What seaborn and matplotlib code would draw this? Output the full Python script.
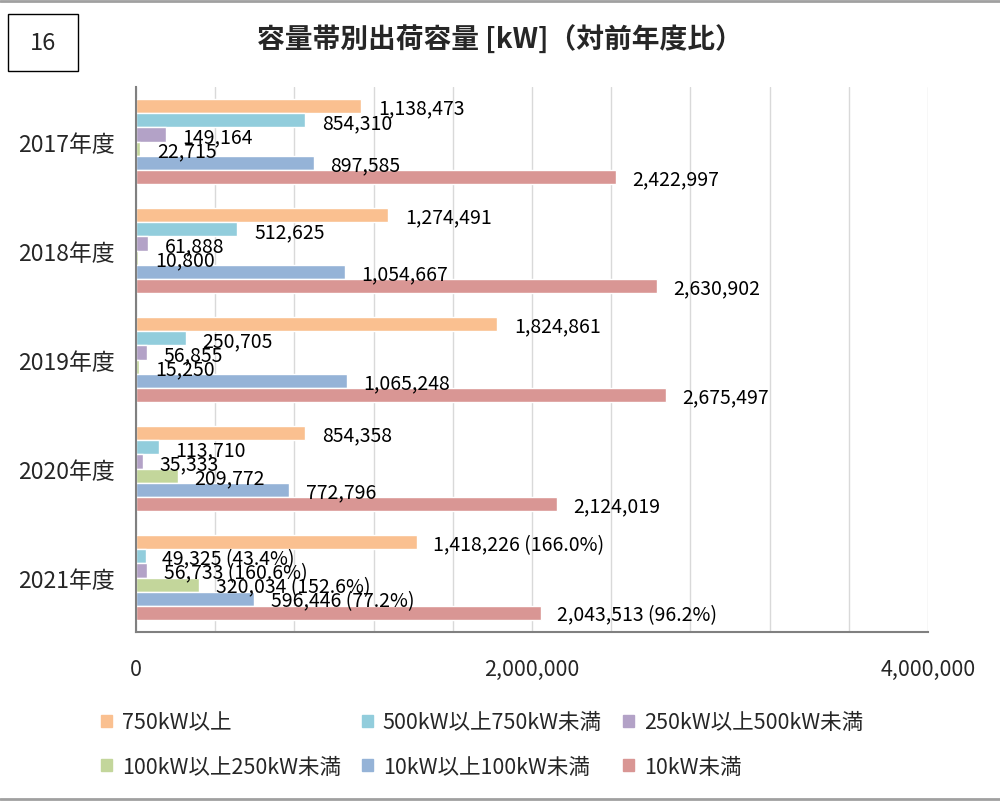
import numpy as np
import pandas as pd

import matplotlib
matplotlib.use('Agg')

import matplotlib.pyplot as plt
import seaborn as sns
from matplotlib.patches import Rectangle
from matplotlib.lines import Line2D

years = ['2017年度', '2018年度', '2019年度', '2020年度', '2021年度']
bands = ['750kW以上', '500kW以上750kW未満', '250kW以上500kW未満',
         '100kW以上250kW未満', '10kW以上100kW未満', '10kW未満']
colors = ['#FAC090', '#92CDDC', '#B3A2C7', '#C3D69B', '#95B3D7', '#D99694']

# shipped capacity per band [kW], one list per band, in year order
v_750 = [1138473, 1274491, 1824861, 854358, 1418226]
v_500_750 = [854310, 512625, 250705, 113710, 49325]
v_250_500 = [149164, 61888, 56855, 35333, 56733]
v_100_250 = [22715, 10800, 15250, 209772, 320034]
v_10_100 = [897585, 1054667, 1065248, 772796, 596446]
v_lt10 = [2422997, 2630902, 2675497, 2124019, 2043513]
# year-on-year ratio shown for the last year only
ratio_2021 = ['166.0%', '43.4%', '160.6%', '152.6%', '77.2%', '96.2%']

all_values = [v_750, v_500_750, v_250_500, v_100_250, v_10_100, v_lt10]
rows = []
for band, vals in zip(bands, all_values):
    for year, v in zip(years, vals):
        rows.append({'year': year, 'band': band, 'value': v})
df = pd.DataFrame(rows)

sns.set_style('white')
plt.rcParams['font.family'] = ['Noto Sans CJK JP', 'DejaVu Sans']

fig = plt.figure(figsize=(10, 8.03), dpi=100)
ax = fig.add_axes([0.136, 0.2117, 0.792, 0.6787])

sns.barplot(data=df, x='value', y='year', hue='band', order=years,
            hue_order=bands, palette=colors, orient='h', width=0.78,
            saturation=1, ax=ax, legend=False)

# data labels
for i, cont in enumerate(ax.containers):
    for j, bar in enumerate(cont):
        v = all_values[i][j]
        txt = f'{v:,}'
        if j == len(years) - 1:
            txt += f' ({ratio_2021[i]})'
        ax.annotate(txt, (bar.get_width(), bar.get_y() + bar.get_height() / 2),
                    xytext=(12, -1.5), textcoords='offset points',
                    va='center', ha='left', fontsize=14, color='black')

ax.set_xlim(0, 4000000)
ax.set_ylim(len(years) - 0.5, -0.5)
xt = np.arange(0, 4000001, 400000)
ax.set_xticks(xt)
ax.set_xticklabels([f'{v:,}' if v % 2000000 == 0 else '' for v in xt], fontsize=15.5)
ax.tick_params(axis='x', length=0, pad=19)
ax.tick_params(axis='y', length=0, labelsize=16.5, pad=15)
ax.set_yticks(np.arange(-0.5, len(years), 1.0), minor=True)
ax.tick_params(axis='y', which='minor', length=6, color='#808080', width=1)
ax.grid(axis='x', color='#D9D9D9', lw=1)
ax.set_axisbelow(True)
ax.set_xlabel('')
ax.set_ylabel('')
for s in ['top', 'right']:
    ax.spines[s].set_visible(False)
for s in ['left', 'bottom']:
    ax.spines[s].set_color('#808080')
    ax.spines[s].set_linewidth(1.5)

# legend, filled column-wise so rows read like the original
handles = [Rectangle((0, 0), 1, 1, color=c) for c in colors]
order = [0, 3, 1, 4, 2, 5]
fig.legend([handles[k] for k in order], [bands[k] for k in order],
           ncol=3, loc='upper left', bbox_to_anchor=(0.082, 0.137),
           frameon=False, fontsize=15.5, handlelength=0.5, handleheight=0.5,
           handletextpad=0.45, columnspacing=1.0, labelspacing=1.05)

fig.suptitle('容量帯別出荷容量 [kW]（対前年度比）', x=0.5, y=0.968,
             fontsize=20, fontweight='bold')

# page number box and frame lines
fig.add_artist(Rectangle((0.008, 1 - 72 / 803), 0.07, 57 / 803, fill=False,
                         edgecolor='black', lw=1, transform=fig.transFigure))
fig.text(0.043, 1 - 44 / 803, '16', ha='center', va='center', fontsize=17)
fig.add_artist(Line2D([0, 1], [0.997, 0.997], color='#A0A0A0', lw=2,
                      transform=fig.transFigure))
fig.add_artist(Line2D([0, 1], [0.004, 0.004], color='#A0A0A0', lw=2,
                      transform=fig.transFigure))

plt.savefig('out.png', dpi=100)
plt.close()
